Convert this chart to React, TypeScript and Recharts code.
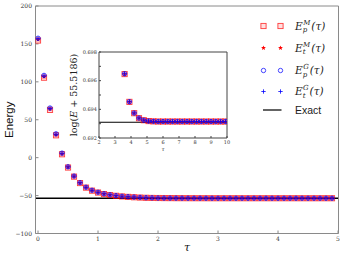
import React from 'react';
import { ComposedChart, Scatter, XAxis, YAxis, ReferenceLine } from 'recharts';

// ---------- data ----------
const tau = [
  0, 0.1, 0.2, 0.3, 0.4, 0.5, 0.6, 0.7, 0.8, 0.9,
  1.0, 1.1, 1.2, 1.3, 1.4, 1.5, 1.6, 1.7, 1.8, 1.9,
  2.0, 2.1, 2.2, 2.3, 2.4, 2.5, 2.6, 2.7, 2.8, 2.9,
  3.0, 3.1, 3.2, 3.3, 3.4, 3.5, 3.6, 3.7, 3.8, 3.9,
  4.0, 4.1, 4.2, 4.3, 4.4, 4.5, 4.6, 4.7, 4.8, 4.9,
];
const epM = [
  154.5, 105.5, 63, 29.5, 4.5, -13, -25, -33.5, -39.5, -43.5,
  -46, -48, -49.3, -50.3, -51.1, -51.7, -52.2, -52.6, -52.9, -53.1,
  -53.2, -53.3, -53.35, -53.4, -53.42, -53.45, -53.47, -53.48, -53.49, -53.5,
  -53.5, -53.5, -53.5, -53.5, -53.5, -53.5, -53.5, -53.5, -53.5, -53.5,
  -53.5, -53.5, -53.5, -53.5, -53.5, -53.5, -53.5, -53.5, -53.5, -53.5,
];
const etM = [
  155.5, 106.5, 64, 30, 5, -12.5, -24.7, -33.2, -39.3, -43.3,
  -45.8, -47.8, -49.2, -50.2, -51, -51.6, -52.1, -52.5, -52.8, -53,
  -53.2, -53.3, -53.35, -53.4, -53.42, -53.45, -53.47, -53.48, -53.49, -53.5,
  -53.5, -53.5, -53.5, -53.5, -53.5, -53.5, -53.5, -53.5, -53.5, -53.5,
  -53.5, -53.5, -53.5, -53.5, -53.5, -53.5, -53.5, -53.5, -53.5, -53.5,
];
const epG = [
  157.5, 108.5, 65.5, 31.5, 6, -12, -24.3, -33, -39, -43,
  -45.6, -47.6, -49, -50.1, -50.9, -51.5, -52, -52.4, -52.8, -53,
  -53.2, -53.3, -53.35, -53.4, -53.42, -53.45, -53.47, -53.48, -53.49, -53.5,
  -53.5, -53.5, -53.5, -53.5, -53.5, -53.5, -53.5, -53.5, -53.5, -53.5,
  -53.5, -53.5, -53.5, -53.5, -53.5, -53.5, -53.5, -53.5, -53.5, -53.5,
];
const etG = [
  157, 108, 65, 31, 5.8, -12.2, -24.4, -33.1, -39.1, -43.1,
  -45.7, -47.7, -49.1, -50.1, -50.9, -51.5, -52, -52.4, -52.8, -53,
  -53.2, -53.3, -53.35, -53.4, -53.42, -53.45, -53.47, -53.48, -53.49, -53.5,
  -53.5, -53.5, -53.5, -53.5, -53.5, -53.5, -53.5, -53.5, -53.5, -53.5,
  -53.5, -53.5, -53.5, -53.5, -53.5, -53.5, -53.5, -53.5, -53.5, -53.5,
];
const exactEnergy = -53.52;

const tauInset = [3.6, 3.9, 4.2, 4.5, 4.8, 5.1, 5.4, 5.7, 6.0, 6.3, 6.6, 6.9, 7.2, 7.5, 7.8, 8.1, 8.4, 8.7, 9.0, 9.3, 9.6, 9.9];
const logM = [0.69646, 0.69452, 0.69373, 0.69338, 0.69324, 0.69318, 0.69316, 0.69315, 0.69315, 0.69315, 0.69315, 0.69315, 0.69315, 0.69315, 0.69315, 0.69315, 0.69315, 0.69315, 0.69315, 0.69315, 0.69315, 0.69315];
const logG = [0.69648, 0.69453, 0.69374, 0.69339, 0.69324, 0.69318, 0.69316, 0.69315, 0.69315, 0.69315, 0.69315, 0.69315, 0.69315, 0.69315, 0.69315, 0.69315, 0.69315, 0.69315, 0.69315, 0.69315, 0.69315, 0.69315];
const exactLog = 0.6931;

const mainXTicks = [0, 1, 2, 3, 4, 5];
const mainYTicks = [-100, -50, 0, 50, 100, 150, 200];
const insetXTicks = [2, 3, 4, 5, 6, 7, 8, 9, 10];
const insetYTicks = [0.692, 0.693, 0.694, 0.695, 0.696, 0.697, 0.698];
const insetYLabelled = [0.692, 0.694, 0.696, 0.698];

const legendItems = [
  { kind: 'square', sub: 'p', sup: 'M' },
  { kind: 'star', sub: 't', sup: 'M' },
  { kind: 'circle', sub: 'p', sup: 'G' },
  { kind: 'plus', sub: 't', sup: 'G' },
];

// ---------- styles ----------
const RED = '#ff0000';
const BLUE = '#0000ff';
const SERIF = 'DejaVu Serif';

const zip = (xs: number[], ys: number[]) => xs.map((t, i) => ({ t, e: ys[i] }));

// ---------- markers ----------
function Square({ cx, cy }: any) {
  return <rect x={cx - 2.6} y={cy - 2.6} width={5.2} height={5.2} fill="rgba(255,0,0,0.12)" stroke={RED} strokeOpacity={0.75} strokeWidth={0.9} />;
}
function starPoints(cx: number, cy: number, R: number, r: number) {
  const pts: string[] = [];
  for (let k = 0; k < 10; k++) {
    const a = -Math.PI / 2 + (k * Math.PI) / 5;
    const rad = k % 2 === 0 ? R : r;
    pts.push(`${cx + rad * Math.cos(a)},${cy + rad * Math.sin(a)}`);
  }
  return pts.join(' ');
}
function Star({ cx, cy }: any) {
  return <polygon points={starPoints(cx, cy, 2.6, 1.1)} fill={RED} stroke="none" />;
}
function Circle({ cx, cy }: any) {
  return <circle cx={cx} cy={cy} r={2.2} fill="none" stroke={BLUE} strokeOpacity={0.8} strokeWidth={0.9} />;
}
function Plus({ cx, cy }: any) {
  return (
    <g stroke={BLUE} strokeWidth={0.8}>
      <line x1={cx - 2.2} y1={cy} x2={cx + 2.2} y2={cy} />
      <line x1={cx} y1={cy - 2.2} x2={cx} y2={cy + 2.2} />
    </g>
  );
}
const markerOf: Record<string, (p: any) => any> = {
  square: (p) => <Square cx={p.cx} cy={p.cy} />,
  star: (p) => <Star cx={p.cx} cy={p.cy} />,
  circle: (p) => <Circle cx={p.cx} cy={p.cy} />,
  plus: (p) => <Plus cx={p.cx} cy={p.cy} />,
};

const fmtMinus = (v: number) => String(v).replace('-', '\u2212');

// ---------- labels ----------
const EnergyLabel = (props: any) => {
  const vb = props.viewBox || {};
  const x = vb.x + 3.5;
  const y = vb.y + vb.height / 2;
  return (
    <text x={x} y={y} transform={`rotate(-90, ${x}, ${y})`} textAnchor="middle" dominantBaseline="central" fontFamily="Liberation Sans" fontSize={11.5} fill="#111">
      Energy
    </text>
  );
};
const TauLabel = (props: any) => {
  const vb = props.viewBox || {};
  return (
    <text x={vb.x + vb.width / 2} y={vb.y + vb.height - 3} textAnchor="middle" fontFamily={SERIF} fontStyle="italic" fontSize={11} fill="#111">
      τ
    </text>
  );
};
const InsetTauLabel = (props: any) => {
  const vb = props.viewBox || {};
  return (
    <text x={vb.x + vb.width / 2} y={vb.y + 13} textAnchor="middle" fontFamily={SERIF} fontStyle="italic" fontSize={5.5} fill="#333">
      τ
    </text>
  );
};
const LogLabel = (props: any) => {
  const vb = props.viewBox || {};
  const x = vb.x + 4;
  const y = vb.y + vb.height / 2;
  return (
    <text x={x} y={y} transform={`rotate(-90, ${x}, ${y})`} textAnchor="middle" dominantBaseline="central" fontFamily={SERIF} fontSize={9.5} fill="#222">
      log(<tspan fontStyle="italic">E</tspan> + 55.5186)
    </text>
  );
};

const mainTick = { fontSize: 6, fill: '#333', fontFamily: SERIF };
const insetTick = { fontSize: 5, fill: '#333', fontFamily: SERIF };
const MAIN_AXIS = '#8a8a8a';
const INSET_AXIS = '#444';

function MainChart() {
  return (
    <ComposedChart width={345} height={254} margin={{ top: 6, right: 6.5, bottom: 0, left: 5.5 }}>
      <XAxis xAxisId="b" type="number" dataKey="t" domain={[-0.042, 5.008]} allowDataOverflow ticks={mainXTicks} interval={0}
        height={20.5} tickSize={-3} tickMargin={6} axisLine={{ stroke: MAIN_AXIS }} tickLine={{ stroke: MAIN_AXIS }}
        tick={mainTick} label={{ content: TauLabel }} />
      <XAxis xAxisId="t" orientation="top" mirror type="number" domain={[-0.042, 5.008]} allowDataOverflow ticks={mainXTicks} interval={0}
        tick={false} tickSize={3} axisLine={{ stroke: MAIN_AXIS }} tickLine={{ stroke: MAIN_AXIS }} />
      <YAxis yAxisId="l" type="number" domain={[-100, 200]} allowDataOverflow ticks={mainYTicks} interval={0} width={30}
        tickSize={-3} tickMargin={6.5} axisLine={{ stroke: MAIN_AXIS }} tickLine={{ stroke: MAIN_AXIS }}
        tick={mainTick} tickFormatter={fmtMinus} label={{ content: EnergyLabel }} />
      <YAxis yAxisId="r" orientation="right" mirror type="number" domain={[-100, 200]} allowDataOverflow ticks={mainYTicks} interval={0}
        tick={false} tickSize={3} axisLine={{ stroke: MAIN_AXIS }} tickLine={{ stroke: MAIN_AXIS }} />
      <ReferenceLine xAxisId="b" yAxisId="l" y={exactEnergy} stroke="#000" strokeWidth={1.3} />
      <Scatter xAxisId="b" yAxisId="l" data={zip(tau, epM)} dataKey="e" shape={markerOf.square} isAnimationActive={false} />
      <Scatter xAxisId="b" yAxisId="l" data={zip(tau, etM)} dataKey="e" shape={markerOf.star} isAnimationActive={false} />
      <Scatter xAxisId="b" yAxisId="l" data={zip(tau, epG)} dataKey="e" shape={markerOf.circle} isAnimationActive={false} />
      <Scatter xAxisId="b" yAxisId="l" data={zip(tau, etG)} dataKey="e" shape={markerOf.plus} isAnimationActive={false} />
    </ComposedChart>
  );
}

function InsetChart() {
  return (
    <ComposedChart width={175} height={115} margin={{ top: 12, right: 8, bottom: 0, left: 9 }}>
      <XAxis xAxisId="b" type="number" dataKey="t" domain={[2, 10]} allowDataOverflow ticks={insetXTicks} interval={0}
        height={17} tickSize={-2} tickMargin={4.5} axisLine={{ stroke: INSET_AXIS }} tickLine={{ stroke: INSET_AXIS }}
        tick={insetTick} label={{ content: InsetTauLabel }} />
      <XAxis xAxisId="t" orientation="top" mirror type="number" domain={[2, 10]} allowDataOverflow ticks={insetXTicks} interval={0}
        tick={false} tickSize={2} axisLine={{ stroke: INSET_AXIS }} tickLine={{ stroke: INSET_AXIS }} />
      <YAxis yAxisId="l" type="number" domain={[0.692, 0.698]} allowDataOverflow ticks={insetYTicks} interval={0} width={30}
        tickSize={-2} tickMargin={4} axisLine={{ stroke: INSET_AXIS }} tickLine={{ stroke: INSET_AXIS }}
        tick={insetTick} tickFormatter={(v: number) => (insetYLabelled.some((u) => Math.abs(u - v) < 1e-7) ? v.toFixed(3) : '')}
        label={{ content: LogLabel }} />
      <YAxis yAxisId="r" orientation="right" mirror type="number" domain={[0.692, 0.698]} allowDataOverflow ticks={insetYTicks} interval={0}
        tick={false} tickSize={2} axisLine={{ stroke: INSET_AXIS }} tickLine={{ stroke: INSET_AXIS }} />
      <ReferenceLine xAxisId="b" yAxisId="l" y={exactLog} stroke="#000" strokeWidth={1.2} />
      <Scatter xAxisId="b" yAxisId="l" data={zip(tauInset, logM)} dataKey="e" shape={markerOf.square} isAnimationActive={false} />
      <Scatter xAxisId="b" yAxisId="l" data={zip(tauInset, logM)} dataKey="e" shape={markerOf.star} isAnimationActive={false} />
      <Scatter xAxisId="b" yAxisId="l" data={zip(tauInset, logG)} dataKey="e" shape={markerOf.circle} isAnimationActive={false} />
      <Scatter xAxisId="b" yAxisId="l" data={zip(tauInset, logG)} dataKey="e" shape={markerOf.plus} isAnimationActive={false} />
    </ComposedChart>
  );
}

function LegendOverlay() {
  const rows = [26, 48, 70.5, 91.5];
  return (
    <svg width={345} height={254} style={{ position: 'absolute', left: 0, top: 0, pointerEvents: 'none' }}>
      {legendItems.map((it, i) => {
        const y = rows[i];
        const M = markerOf[it.kind];
        return (
          <g key={i}>
            {M({ cx: 263.5, cy: y })}
            {M({ cx: 280.5, cy: y })}
            <text x={295} y={y + 3.5} fontFamily={SERIF} fontStyle="italic" fontSize={10.5} fill="#222">
              E
              <tspan fontSize={7} dy={2.5}>{it.sub}</tspan>
              <tspan fontSize={7} dx={it.sub === 't' ? -2.5 : -4} dy={-7.5}>{it.sup}</tspan>
              <tspan fontSize={10.5} dx={1} dy={5}>(τ)</tspan>
            </text>
          </g>
        );
      })}
      <line x1={263} y1={110} x2={281.5} y2={110} stroke="#222" strokeWidth={1.4} />
      <text x={295} y={114} fontFamily="Liberation Sans" fontSize={10.5} fill="#222">Exact</text>
    </svg>
  );
}

export default function App() {
  return (
    <div style={{ position: 'absolute', left: 0, top: 0, width: 345, height: 254, background: '#fff' }}>
      <MainChart />
      <div style={{ position: 'absolute', left: 60, top: 40 }}>
        <InsetChart />
      </div>
      <LegendOverlay />
    </div>
  );
}
